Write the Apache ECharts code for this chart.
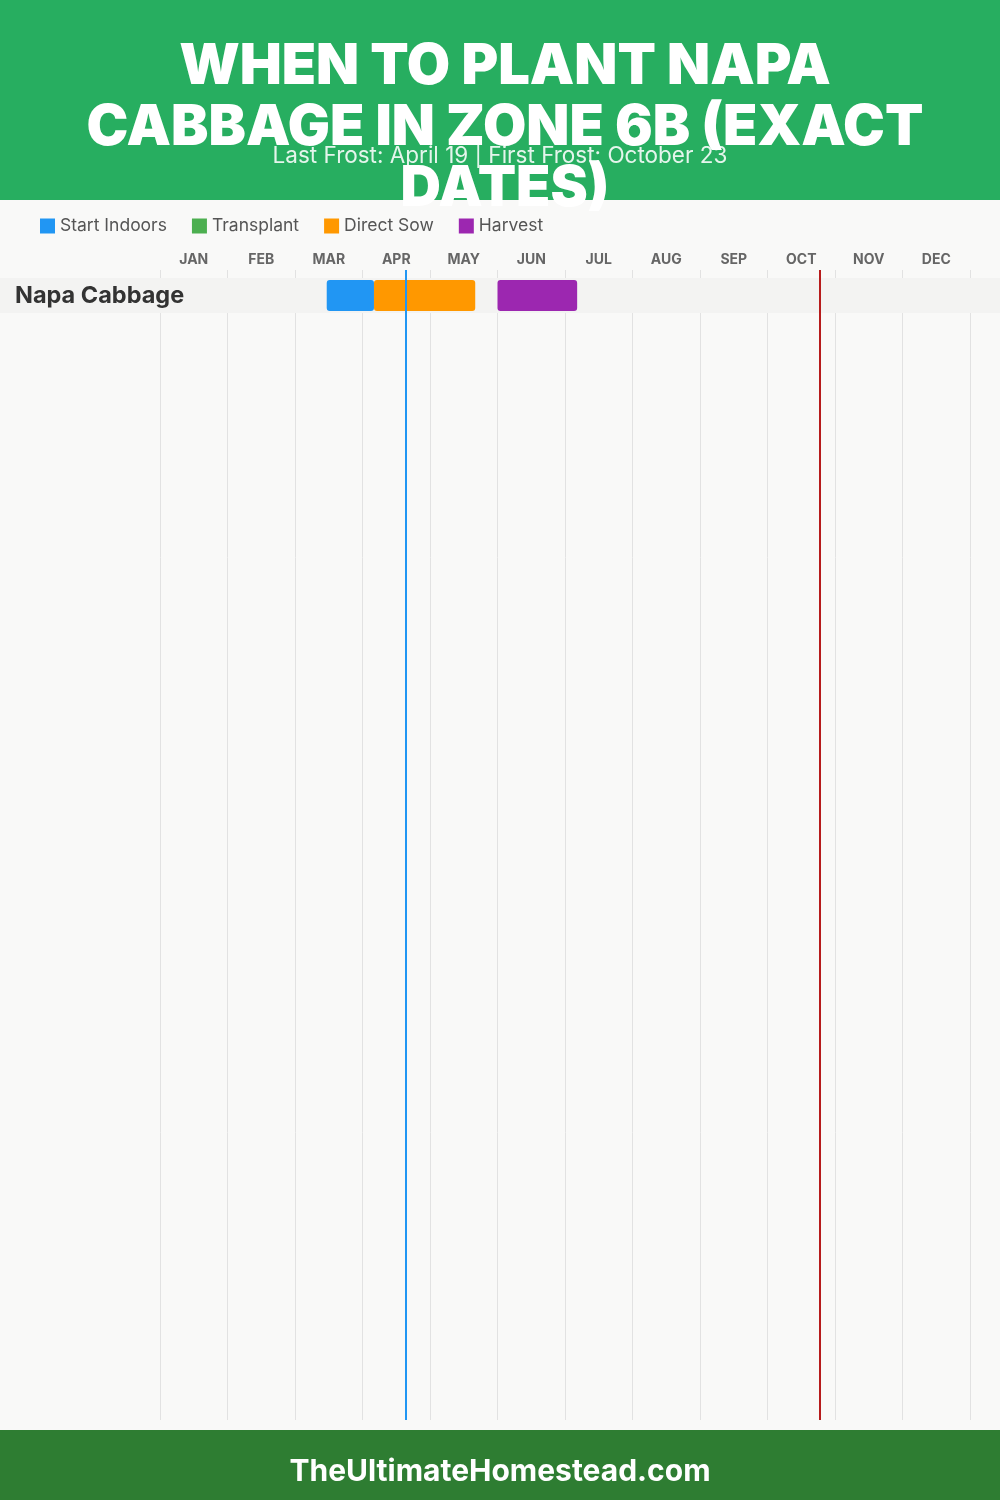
<!DOCTYPE html>
<html><head><meta charset="utf-8">
<script src="https://cdn.jsdelivr.net/npm/echarts@6/dist/echarts.min.js"></script>
<style>html,body{margin:0;padding:0;background:#f9f9f8}#c{width:1000px;height:1500px}</style>
</head><body><div id="c"></div>
<script>
const titleText = 'WHEN TO PLANT NAPA\nCABBAGE IN ZONE 6B (EXACT\nDATES)';
const subtitleText = 'Last Frost: April 19 | First Frost: October 23';
const footerText = 'TheUltimateHomestead.com';
const months = ['JAN','FEB','MAR','APR','MAY','JUN','JUL','AUG','SEP','OCT','NOV','DEC'];
const crops = ['Napa Cabbage'];
const phases = ['Start Indoors','Transplant','Direct Sow','Harvest'];
const phaseColors = ['#2196F3','#4CAF50','#FF9800','#9C27B0'];
// ranges in month units (0 = Jan 1, 12 = end of Dec): [start, end, crop]
const startIndoors = [[2.47, 3.17, 'Napa Cabbage']];
const transplant = [];
const directSow = [[3.17, 4.67, 'Napa Cabbage']];
const harvest = [[5.0, 6.18, 'Napa Cabbage']];
const phaseData = [startIndoors, transplant, directSow, harvest];
const lastFrost = 3.64;    // April 19
const firstFrost = 9.77;   // October 23

const FONT = 'Inter';
const chart = echarts.init(document.getElementById('c'), null, {renderer:'canvas'});

function renderBar(params, api){
  const s = api.coord([api.value(0), api.value(2)]);
  const e = api.coord([api.value(1), api.value(2)]);
  const h = api.size([0, 1])[1] * 0.886;
  return {type:'rect', shape:{x:s[0], y:s[1]-h/2, width:e[0]-s[0], height:h, r:3}, style: api.style()};
}

const series = phases.map((name, i) => ({
  name, type:'custom', xAxisIndex:2, yAxisIndex:1, z:4,
  renderItem: renderBar,
  itemStyle:{color: phaseColors[i]},
  encode:{x:[0,1], y:2},
  data: phaseData[i]
}));
series.push({
  type:'line', xAxisIndex:0, yAxisIndex:0, data:[], silent:true, z:6,
  markLine:{silent:true, symbol:'none', label:{show:false}, z:6,
    data:[{xAxis:lastFrost, lineStyle:{color:'#2196F3', width:2, type:'solid'}},
          {xAxis:firstFrost, lineStyle:{color:'#b71c1c', width:2, type:'solid'}}]}
});

chart.setOption({
  backgroundColor:'#f9f9f8',
  animation:false,
  textStyle:{fontFamily:FONT},
  graphic:[
    {type:'rect', left:0, top:0, z:0, shape:{width:1000, height:200}, style:{fill:'#27ae60'}},
    {type:'rect', left:0, top:278, z:1, shape:{width:1000, height:35}, style:{fill:'#f3f3f2'}},
    {type:'rect', left:0, top:1430, z:0, shape:{width:1000, height:70}, style:{fill:'#2e7d32'}}
  ],
  title:[
    {text:titleText, left:500, top:32, z:8, textAlign:'center',
     textStyle:{color:'#fff', fontSize:56, fontWeight:900, lineHeight:61, fontFamily:FONT}},
    {text:subtitleText, left:'center', top:140, z:9,
     textStyle:{color:'rgba(255,255,255,0.88)', fontSize:22.5, fontWeight:'normal', fontFamily:FONT}},
    {text:footerText, left:'center', top:1452, z:9,
     textStyle:{color:'#fff', fontSize:30, fontWeight:'bold', fontFamily:FONT}}
  ],
  legend:{data:phases, left:35, top:212, icon:'rect', itemWidth:15, itemHeight:15, itemGap:25,
    textStyle:{fontSize:17.5, color:'#555', fontFamily:FONT}, selectedMode:false},
  grid:[
    {left:160, right:30, top:270, bottom:80},
    {left:160, right:30, top:278, height:35}
  ],
  xAxis:[
    {type:'value', gridIndex:0, min:0, max:12, interval:1,
     axisLine:{show:false}, axisTick:{show:false}, axisLabel:{show:false},
     splitLine:{show:true, lineStyle:{color:'#e2e2e2', width:1}}},
    {type:'category', gridIndex:0, position:'top', data:months, boundaryGap:true,
     axisLine:{show:false}, axisTick:{show:false}, splitLine:{show:false},
     axisLabel:{color:'#666', fontSize:14, fontWeight:'bold', margin:3, fontFamily:FONT}},
    {type:'value', gridIndex:1, min:0, max:12, show:false}
  ],
  yAxis:[
    {type:'value', gridIndex:0, min:0, max:1, show:false},
    {type:'category', gridIndex:1, data:crops, inverse:true, z:3,
     axisLine:{show:false}, axisTick:{show:false}, splitLine:{show:false},
     axisLabel:{align:'left', margin:145, fontSize:23.5, fontWeight:'bold', color:'#333', fontFamily:FONT, padding:[6,0,0,0]}}
  ],
  series
});
</script></body></html>
